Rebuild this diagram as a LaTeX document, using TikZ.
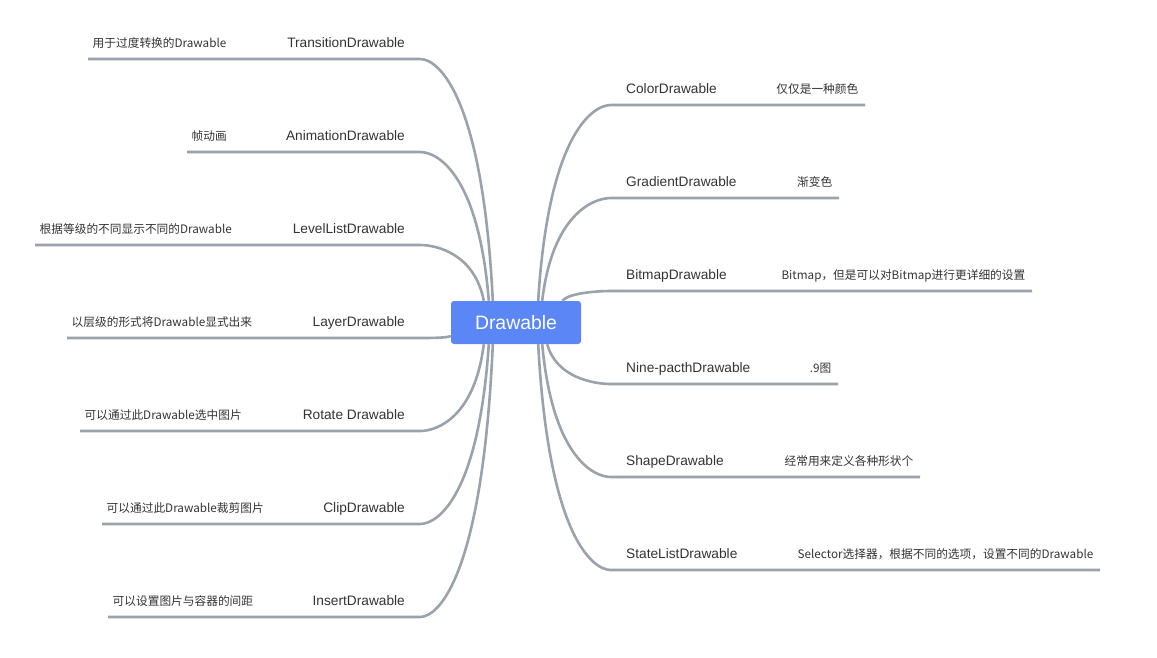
\documentclass[tikz,border=0pt]{standalone}
\usepackage{fontspec}
\setmainfont{Liberation Sans}
\newfontfamily\cjkfont{Noto Sans CJK SC}
\usepackage{tikz}
\definecolor{branchgray}{HTML}{9AA2AB}
\definecolor{rootblue}{HTML}{5A86F6}
\definecolor{txtgray}{HTML}{333333}
\tikzset{
  rootbox/.style={fill=rootblue, text=white, rounded corners=3pt, minimum width=130pt,
    minimum height=43pt, inner sep=0pt, font=\fontsize{19.4}{22}\selectfont},
  lbl/.style={text=txtgray, inner xsep=15pt, inner ysep=11pt, text depth=0pt,
    font=\fontsize{13.7}{16}\selectfont},
  desc/.style={text=txtgray, inner xsep=4.5pt, inner ysep=11.5pt, text depth=0pt,
    font=\cjkfont\fontsize{11.7}{14}\selectfont},
  branch/.style={draw=branchgray, line width=2.6pt},
}

\begin{document}
\begin{tikzpicture}[x=1pt,y=-1pt]
\useasboundingbox (0,0) rectangle (1157,657);
\node[rootbox] (root) at (516,322.5) {Drawable};

% left side
\node[lbl, anchor=south east] (transition) at (420,59) {TransitionDrawable};
\node[desc, anchor=south west] (transition-d) at (88,59) {用于过度转换的Drawable};
\node[lbl, anchor=south east] (animation) at (420,152) {AnimationDrawable};
\node[desc, anchor=south west] (animation-d) at (187,152) {帧动画};
\node[lbl, anchor=south east] (levellist) at (420,245) {LevelListDrawable};
\node[desc, anchor=south west] (levellist-d) at (35,245) {根据等级的不同显示不同的Drawable};
\node[lbl, anchor=south east] (layer) at (420,338) {LayerDrawable};
\node[desc, anchor=south west] (layer-d) at (67,338) {以层级的形式将Drawable显式出来};
\node[lbl, anchor=south east] (rotate) at (420,431) {Rotate Drawable};
\node[desc, anchor=south west] (rotate-d) at (80,431) {可以通过此Drawable选中图片};
\node[lbl, anchor=south east] (clip) at (420,524) {ClipDrawable};
\node[desc, anchor=south west] (clip-d) at (102,524) {可以通过此Drawable裁剪图片};
\node[lbl, anchor=south east] (insert) at (420,617) {InsertDrawable};
\node[desc, anchor=south west] (insert-d) at (108,617) {可以设置图片与容器的间距};

\draw[branch] ([xshift=42pt]root.north west) .. controls +(-10,-201) and +(20,0) .. (transition.south east) -- (transition-d.south west);
\draw[branch] ([xshift=38pt]root.north west) .. controls +(-10,-124) and +(19,0) .. (animation.south east) -- (animation-d.south west);
\draw[branch] ([xshift=33pt]root.north west) .. controls +(-9,-46) and +(18,0) .. (levellist.south east) -- (levellist-d.south west);
\draw[branch] ([yshift=-13.5pt]root.west) .. controls +(-4,2) and +(9,0) .. (layer.south east) -- (layer-d.south west);
\draw[branch] ([xshift=33pt]root.south west) .. controls +(-9,72) and +(18,0) .. (rotate.south east) -- (rotate-d.south west);
\draw[branch] ([xshift=38pt]root.south west) .. controls +(-10,149) and +(19,0) .. (clip.south east) -- (clip-d.south west);
\draw[branch] ([xshift=42pt]root.south west) .. controls +(-10,227) and +(20,0) .. (insert.south east) -- (insert-d.south west);

% right side
\node[lbl, anchor=south west] (color) at (611,105) {ColorDrawable};
\node[desc, anchor=south east, inner xsep=6.5pt] (color-d) at (865,105) {仅仅是一种颜色};
\node[lbl, anchor=south west] (gradient) at (611,198) {GradientDrawable};
\node[desc, anchor=south east, inner xsep=6.5pt] (gradient-d) at (839,198) {渐变色};
\node[lbl, anchor=south west] (bitmap) at (611,291) {BitmapDrawable};
\node[desc, anchor=south east, inner xsep=6.5pt] (bitmap-d) at (1032,291) {Bitmap，但是可以对Bitmap进行更详细的设置};
\node[lbl, anchor=south west] (ninepatch) at (611,384) {Nine-pacthDrawable};
\node[desc, anchor=south east, inner xsep=6.5pt] (ninepatch-d) at (838,384) {.9图};
\node[lbl, anchor=south west] (shape) at (611,477) {ShapeDrawable};
\node[desc, anchor=south east, inner xsep=6.5pt] (shape-d) at (920,477) {经常用来定义各种形状个};
\node[lbl, anchor=south west] (statelist) at (611,570) {StateListDrawable};
\node[desc, anchor=south east, inner xsep=6.5pt] (statelist-d) at (1100,570) {Selector选择器，根据不同的选项，设置不同的Drawable};

\draw[branch] ([xshift=-43pt]root.north east) .. controls +(10,-163) and +(-20,0) .. (color.south west) -- (color-d.south east);
\draw[branch] ([xshift=-39pt]root.north east) .. controls +(10,-85) and +(-19,0) .. (gradient.south west) -- (gradient-d.south east);
\draw[branch] ([xshift=-19pt]root.north east) .. controls +(7,-8) and +(-13,0) .. (bitmap.south west) -- (bitmap-d.south east);
\draw[branch] ([xshift=-34pt]root.south east) .. controls +(9,33) and +(-18,0) .. (ninepatch.south west) -- (ninepatch-d.south east);
\draw[branch] ([xshift=-39pt]root.south east) .. controls +(10,110) and +(-19,0) .. (shape.south west) -- (shape-d.south east);
\draw[branch] ([xshift=-43pt]root.south east) .. controls +(10,188) and +(-20,0) .. (statelist.south west) -- (statelist-d.south east);
\end{tikzpicture}
\end{document}
